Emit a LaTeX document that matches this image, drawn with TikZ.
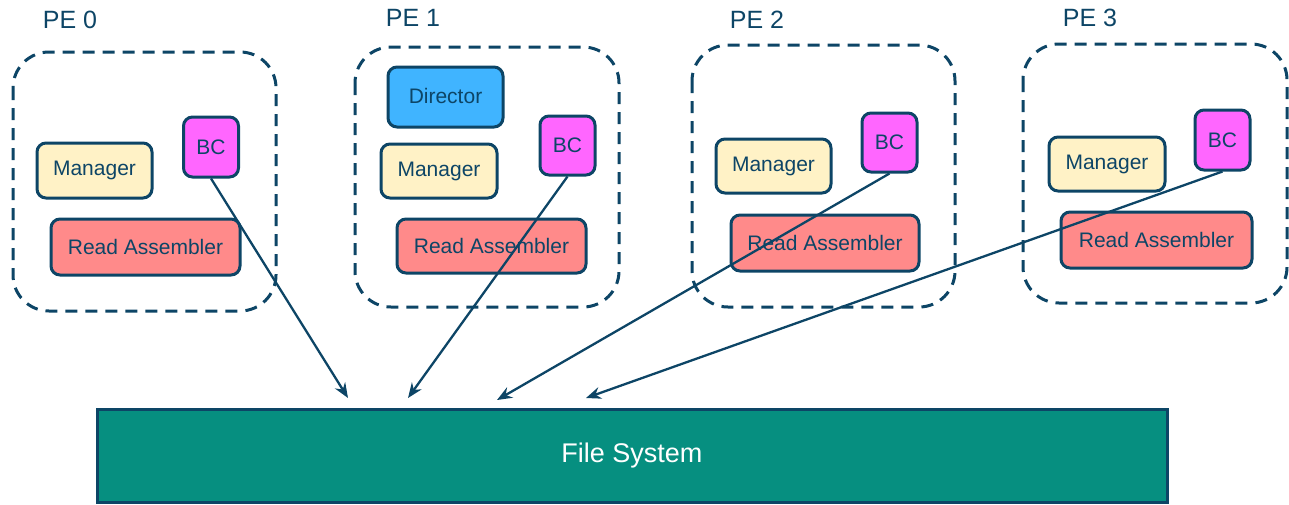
\documentclass[tikz,border=0pt]{standalone}
\usepackage{fontspec}
\setmainfont{Liberation Sans}
\usetikzlibrary{arrows.meta}
\definecolor{ink}{HTML}{0D4566}
\definecolor{mgrfill}{HTML}{FFF2C6}
\definecolor{bcfill}{HTML}{FF66FF}
\definecolor{rafill}{HTML}{FF8A8A}
\definecolor{dirfill}{HTML}{40B4FF}
\definecolor{fsfill}{HTML}{068F80}
\tikzset{
  comp/.style={draw=ink, line width=3pt, rounded corners=9pt, text=ink,
    font=\fontsize{21}{25}\selectfont, inner sep=0pt},
  sz/.style 2 args={minimum width=#1pt, minimum height=#2pt},
  mgr/.style={comp, fill=mgrfill},
  bc/.style={comp, fill=bcfill},
  ra/.style={comp, fill=rafill},
  dir/.style={comp, fill=dirfill},
  pebox/.style={draw=ink, line width=3pt, dash pattern=on 12pt off 8pt, rounded corners=36pt},
  pelabel/.style={text=ink, font=\fontsize{25}{30}\selectfont, inner sep=0pt},
  conn/.style={draw=ink, line width=2.3pt, -{Stealth[length=15pt,width=12pt,inset=5pt]}},
}
\begin{document}
\begin{tikzpicture}[x=1pt,y=-1pt]
\useasboundingbox (0,0) rectangle (1289,504);
% PE boxes
\draw[pebox] (13,52) rectangle (276,311);
\draw[pebox] (355,47) rectangle (619,307);
\draw[pebox] (692,45) rectangle (955,307);
\draw[pebox] (1023,44) rectangle (1287,303);
% labels
\node[pelabel] (l0) at (70,20) {PE 0};
\node[pelabel] (l1) at (413,18) {PE 1};
\node[pelabel] (l2) at (757,20) {PE 2};
\node[pelabel] (l3) at (1090,18) {PE 3};
% PE 0
\node[mgr, sz={115}{55}] (m0) at (94.5,170.5) {Manager};
\node[bc, sz={55}{60}] (b0) at (211,147) {BC};
\node[ra, sz={189}{56}] (r0) at (145.5,247) {Read Assembler};
% PE 1
\node[dir, sz={115}{60}] (d1) at (445.5,97) {\raisebox{3pt}{Director}};
\node[mgr, sz={116}{54}] (m1) at (439,171) {Manager};
\node[bc, sz={55}{59}] (b1) at (567.5,145.5) {BC};
\node[ra, sz={189}{54}] (r1) at (491.5,246) {Read Assembler};
% PE 2
\node[mgr, sz={115}{54}] (m2) at (773.5,166) {Manager};
\node[bc, sz={55}{59}] (b2) at (889.5,142.5) {BC};
\node[ra, sz={188}{56}] (r2) at (825,243) {Read Assembler};
% PE 3
\node[mgr, sz={116}{54}] (m3) at (1107,164) {Manager};
\node[bc, sz={55}{60}] (b3) at (1222.5,140) {BC};
\node[ra, sz={191}{56}] (r3) at (1156.5,240) {Read Assembler};
% File system
\node[draw=ink, line width=3pt, fill=fsfill, text=white, inner sep=0pt,
  minimum width=1070pt, minimum height=93pt,
  font=\fontsize{27}{32}\selectfont] (fs) at (632,455.5) {\raisebox{-2pt}{File System}};
% arrow ends
\coordinate (e0) at (348,398);
\coordinate (e1) at (408,398);
\coordinate (e2) at (497,400);
\coordinate (e3) at (586,398);
\draw[conn] (b0.south) -- (e0);
\draw[conn] (b1.south) -- (e1);
\draw[conn] (b2.south) -- (e2);
\draw[conn] (b3.south) -- (e3);
\end{tikzpicture}
\end{document}
